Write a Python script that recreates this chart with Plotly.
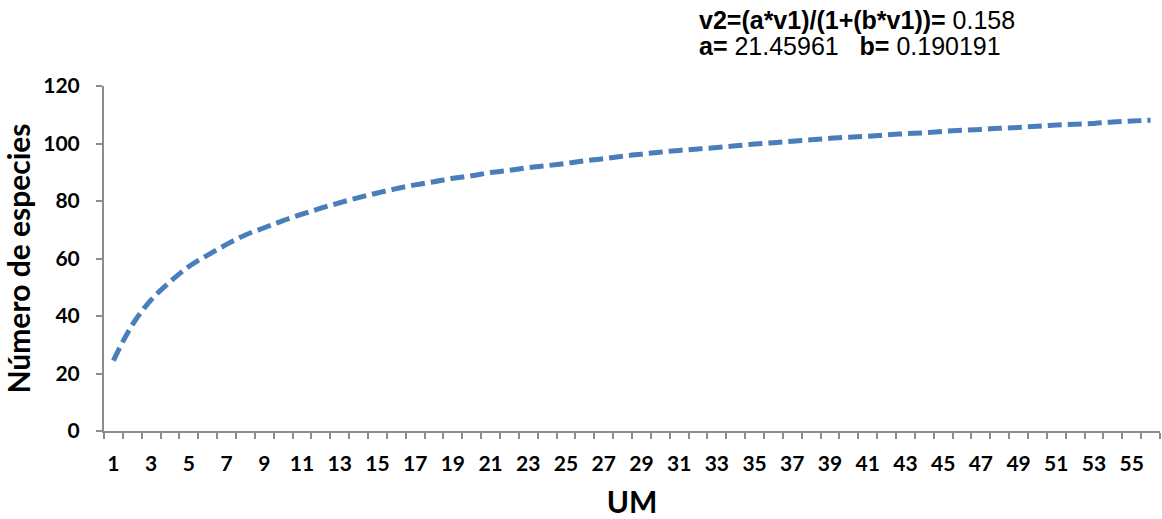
import plotly.graph_objects as go

um = list(range(1, 57))
especies = [24.5, 36.9, 45.6, 51.9, 57.2, 61.2, 64.9, 68.2, 70.7, 73.2,
            75.4, 77.5, 79.4, 81.2, 82.8, 84.3, 85.6, 86.7, 87.9, 88.8,
            89.9, 90.7, 91.6, 92.3, 93.1, 94.0, 94.7, 95.6, 96.3, 97.0,
            97.6, 98.1, 98.6, 99.2, 99.8, 100.3, 100.8, 101.3, 101.8, 102.2,
            102.5, 103.0, 103.4, 103.7, 104.2, 104.6, 104.9, 105.3, 105.6, 106.0,
            106.4, 106.7, 107.0, 107.5, 107.8, 108.1]
x_ticklabels = [str(v) for v in range(1, 56, 2)]
y_ticks = [0, 20, 40, 60, 80, 100, 120]

fig = go.Figure()
fig.add_trace(go.Scatter(
    x=um, y=especies, mode="lines",
    line=dict(color="#4a7ebb", width=5, dash="14px,6px", shape="spline"),
    showlegend=False, hoverinfo="skip"))

tick_font = dict(family="Lato, Carlito, Arial", size=21, color="#000000")

fig.update_layout(
    width=1162, height=519,
    margin=dict(l=104, r=2, t=86, b=88),
    paper_bgcolor="white", plot_bgcolor="white",
    xaxis=dict(
        range=[0.5, 56.5],
        tickmode="array",
        tickvals=[int(v) for v in x_ticklabels],
        ticktext=["<b>%s</b>" % v for v in x_ticklabels],
        ticks="", showgrid=False, zeroline=False,
        showline=True, linecolor="#8c8c8c", linewidth=2,
        tickfont=tick_font, ticklabelstandoff=13,
        minor=dict(tickmode="linear", tick0=0.5, dtick=1, ticks="outside",
                   ticklen=6, tickwidth=2, tickcolor="#8c8c8c", showgrid=False),
        title=dict(text="<b>UM</b>", font=dict(family="Lato, Carlito, Arial", size=30, color="#000000"),
                   standoff=18),
    ),
    yaxis=dict(
        range=[0, 120],
        tickmode="array", tickvals=y_ticks,
        ticktext=["<b>%d</b>" % v for v in y_ticks],
        ticks="outside", ticklen=6, tickwidth=2, tickcolor="#8c8c8c",
        showgrid=False, zeroline=False,
        showline=True, linecolor="#8c8c8c", linewidth=2,
        tickfont=tick_font, ticklabelstandoff=12,
        title=dict(text="<b>Número de especies</b>",
                   font=dict(family="Lato, Carlito, Arial", size=30, color="#000000"),
                   standoff=10),
    ),
)

ann_font = dict(family="Liberation Sans, Arial", size=25, color="#000000")
fig.add_annotation(
    xref="paper", yref="paper", x=(697 - 104) / 1056, y=1.0, yshift=66,
    xanchor="left", yanchor="middle", align="left", showarrow=False,
    text="<b>v2=(a*v1)/(1+(b*v1))=</b> 0.158", font=ann_font)
fig.add_annotation(
    xref="paper", yref="paper", x=(697 - 104) / 1056, y=1.0, yshift=40,
    xanchor="left", yanchor="middle", align="left", showarrow=False,
    text="<b>a=</b> 21.45961&nbsp;&nbsp;&nbsp;<b>b=</b> 0.190191", font=ann_font)

fig.write_html("out.html")
